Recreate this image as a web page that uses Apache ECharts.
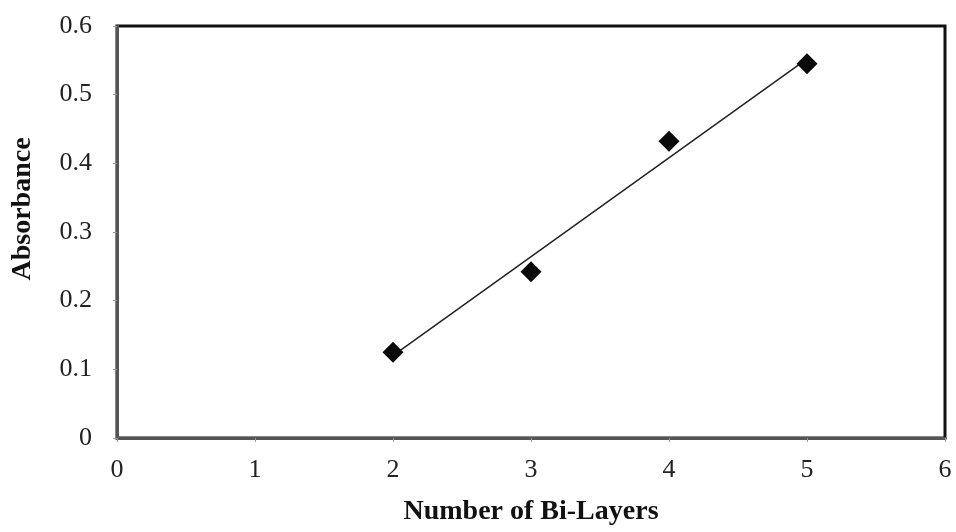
<!DOCTYPE html>
<html lang="en">
<head>
    <meta charset="UTF-8" />
    <title>Absorbance vs Bi-Layers</title>
    <script src="https://cdn.jsdelivr.net/npm/echarts@6/dist/echarts.min.js"></script>
</head>
<body style="margin:0;background:#fff;">
    <div id="chart" style="width:956px;height:532px;"></div>
    <script type="text/javascript">
        // data
        var layers = [2, 3, 4, 5];
        var absorbance = [0.125, 0.242, 0.432, 0.545];
        // linear trend line end points
        var trendX = [2, 5];
        var trendY = [0.12, 0.552];

        var serif = 'Liberation Serif';
        var chart = echarts.init(document.getElementById('chart'));

        var option = {
            backgroundColor: '#fff',
            animation: false,
            grid: {
                left: 117,
                right: 11,
                top: 26,
                bottom: 94,
                show: true,
                borderColor: '#111',
                borderWidth: 3
            },
            xAxis: {
                type: 'value',
                min: 0,
                max: 6,
                interval: 1,
                name: 'Number of Bi-Layers',
                nameLocation: 'middle',
                nameGap: 60,
                nameTextStyle: { fontFamily: serif, fontSize: 28, fontWeight: 'bold', color: '#111' },
                axisLine: { lineStyle: { color: '#555', width: 3 } },
                axisTick: { show: true, length: 4, lineStyle: { color: '#999' } },
                axisLabel: { fontFamily: serif, fontSize: 26, color: '#222', margin: 19 },
                splitLine: { show: false }
            },
            yAxis: {
                type: 'value',
                min: 0,
                max: 0.6,
                interval: 0.1,
                name: 'Absorbance',
                nameLocation: 'middle',
                nameGap: 80,
                // shifted up a little, as in the reference
                nameTextStyle: { fontFamily: serif, fontSize: 28, fontWeight: 'bold', color: '#111', padding: [0, 0, 0, 46] },
                axisLine: { lineStyle: { color: '#555', width: 3 } },
                axisTick: { show: true, length: 4, lineStyle: { color: '#999' } },
                axisLabel: { fontFamily: serif, fontSize: 26, color: '#222', margin: 25 },
                splitLine: { show: false }
            },
            series: [{
                type: 'line',
                data: trendX.map(function (x, i) { return [x, trendY[i]]; }),
                showSymbol: false,
                symbol: 'none',
                lineStyle: { color: '#222', width: 1.5 },
                z: 2
            }, {
                type: 'scatter',
                data: layers.map(function (x, i) { return [x, absorbance[i]]; }),
                symbol: 'diamond',
                symbolSize: [21, 21],
                itemStyle: { color: '#0a0a0a', opacity: 1 },
                z: 3
            }]
        };

        chart.setOption(option, true);
    </script>
</body>
</html>
